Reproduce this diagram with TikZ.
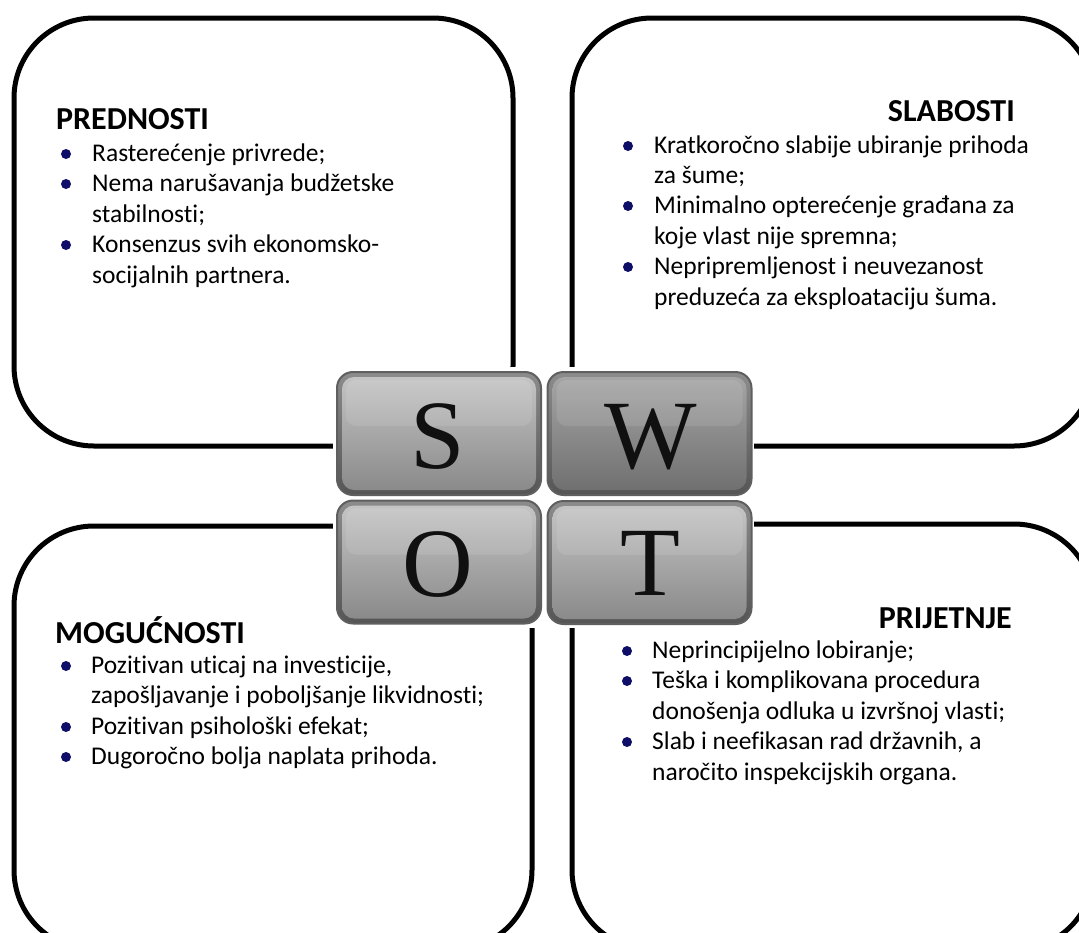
\documentclass[tikz,border=0pt]{standalone}
\usepackage{fontspec}
\setmainfont{Carlito}[Ligatures=NoCommon]
\newfontfamily\swotfont{Liberation Serif}
\definecolor{bulletnavy}{RGB}{14,14,105}
\definecolor{rimtop}{RGB}{140,140,140}
\definecolor{rimbot}{RGB}{85,85,85}
\definecolor{rimdraw}{RGB}{95,95,95}
\definecolor{facetop}{RGB}{196,196,196}
\definecolor{facemid}{RGB}{150,150,150}
\definecolor{facebot}{RGB}{138,138,138}
\definecolor{dfacetop}{RGB}{165,165,165}
\definecolor{dfacemid}{RGB}{124,124,124}
\definecolor{dfacebot}{RGB}{112,112,112}
\definecolor{lettercol}{RGB}{16,16,16}
\usetikzlibrary{calc}
\begin{document}
\begin{tikzpicture}[x=1pt,y=-1pt,
  panel/.style={draw=black, line width=5pt, rounded corners=80pt},
  bul/.style={circle, fill=bulletnavy, inner sep=0pt, minimum size=10pt},
  txt/.style={anchor=base west, inner sep=0pt, font=\fontsize{25.5}{30}\selectfont},
  headl/.style={anchor=base west, inner sep=0pt, font=\fontsize{32}{38}\selectfont\bfseries},
  headr/.style={anchor=base east, inner sep=0pt, font=\fontsize{32}{38}\selectfont\bfseries},
  tile/.style={rectangle, rounded corners=16pt, draw=rimdraw, line width=2pt,
     top color=rimtop, bottom color=rimbot, inner sep=0pt,
     minimum width=204pt, minimum height=123pt},
  face/.style={rounded corners=12pt, top color=facetop, middle color=facemid, bottom color=facebot},
  dface/.style={rounded corners=12pt, top color=dfacetop, middle color=dfacemid, bottom color=dfacebot},
  gloss/.style={rounded corners=10pt, fill=white, fill opacity=0.10},
  letter/.style={anchor=base, inner sep=0pt, text=lettercol, font=\swotfont\fontsize{98}{98}\selectfont}
]
\useasboundingbox (0,0) rectangle (1079,932);
\fill[white] (0,0) rectangle (1079,932);

% panels
\draw[panel] (14,18) rectangle (513,446);
\draw[panel] (572,18) rectangle (1094,446);
\draw[panel] (14,526) rectangle (532,950);
\draw[panel] (572,524) rectangle (1094,950);

% white backing of the SWOT picture
\fill[white] (333,367) rectangle (754,628);

% tiles
\node[tile] (tS) at (439,433.5) {};
\node[tile] (tW) at (649.5,433.5) {};
\node[tile] (tO) at (439,562) {};
\node[tile] (tT) at (649.5,562.5) {};
\path[face]  ([shift={(6,6)}]tS.north west) rectangle ([shift={(-6,-6)}]tS.south east);
\path[dface] ([shift={(6,6)}]tW.north west) rectangle ([shift={(-6,-6)}]tW.south east);
\path[face]  ([shift={(6,6)}]tO.north west) rectangle ([shift={(-6,-6)}]tO.south east);
\path[face]  ([shift={(6,6)}]tT.north west) rectangle ([shift={(-6,-6)}]tT.south east);
\path[gloss] ([shift={(10,9)}]tS.north west) rectangle ([shift={(-10,55)}]tS.north east);
\path[gloss] ([shift={(10,9)}]tW.north west) rectangle ([shift={(-10,55)}]tW.north east);
\path[gloss] ([shift={(10,9)}]tO.north west) rectangle ([shift={(-10,55)}]tO.north east);
\path[gloss] ([shift={(10,9)}]tT.north west) rectangle ([shift={(-10,55)}]tT.north east);
\node[letter] (lS) at (438,468) {S};
\node[letter] (lW) at (651,468) {W};
\node[letter] (lO) at (438,596) {O};
\node[letter] (lT) at (650,595) {T};

% PREDNOSTI
\node[headl] (sH) at (56,129) {PREDNOSTI};
\node[bul] (sb1) at (66,154) {};
\node[txt] (s1) at (92,161) {Rasterećenje privrede;};
\node[bul] (sb2) at (66,184) {};
\node[txt] (s2) at (92,191) {Nema narušavanja budžetske};
\node[txt] (s3) at (92,222) {stabilnosti;};
\node[bul] (sb3) at (66,245) {};
\node[txt] (s4) at (92,252) {Konsenzus svih ekonomsko-};
\node[txt] (s5) at (92,283) {socijalnih partnera.};

% SLABOSTI
\node[headr] (wH) at (1015,121) {SLABOSTI};
\node[bul] (wb1) at (628,146) {};
\node[txt] (w1) at (654,153) {Kratkoročno slabije ubiranje prihoda};
\node[txt] (w2) at (654,183) {za šume;};
\node[bul] (wb2) at (628,206) {};
\node[txt] (w3) at (654,213) {Minimalno opterećenje građana za};
\node[txt] (w4) at (654,244) {koje vlast nije spremna;};
\node[bul] (wb3) at (628,267) {};
\node[txt] (w5) at (654,274) {Nepripremljenost i neuvezanost};
\node[txt] (w6) at (654,305) {preduzeća za eksploataciju šuma.};

% MOGUCNOSTI
\node[headl] (oH) at (55,643) {MOGUĆNOSTI};
\node[bul] (ob1) at (66,666) {};
\node[txt] (o1) at (91,673) {Pozitivan uticaj na investicije,};
\node[txt] (o2) at (91,703) {zapošljavanje i poboljšanje likvidnosti;};
\node[bul] (ob2) at (66,727) {};
\node[txt] (o3) at (91,734) {Pozitivan psihološki efekat;};
\node[bul] (ob3) at (66,757) {};
\node[txt] (o4) at (91,764) {Dugoročno bolja naplata prihoda.};

% PRIJETNJE
\node[headr] (tH) at (1012,628) {PRIJETNJE};
\node[bul] (tb1) at (627,651) {};
\node[txt] (t1) at (652,658) {Neprincipijelno lobiranje;};
\node[bul] (tb2) at (627,681) {};
\node[txt] (t2) at (652,688) {Teška i komplikovana procedura};
\node[txt] (t3) at (652,719) {donošenja odluka u izvršnoj vlasti;};
\node[bul] (tb3) at (627,742) {};
\node[txt] (t4) at (652,749) {Slab i neefikasan rad državnih, a};
\node[txt] (t5) at (652,780) {naročito inspekcijskih organa.};
\end{tikzpicture}
\end{document}
